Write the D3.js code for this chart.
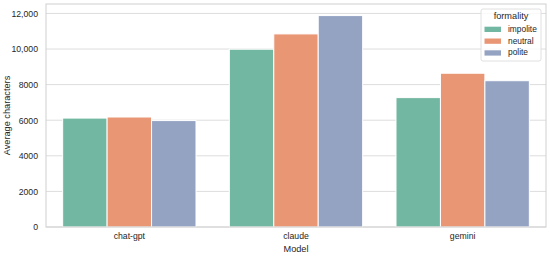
<!DOCTYPE html>
<html>
<head>
<meta charset="utf-8">
<script src="https://cdn.jsdelivr.net/npm/d3@7"></script>
<style>
  body { margin: 0; background: #fff; }
  text { font-family: "Liberation Sans", Arial, sans-serif; fill: #262626; }
</style>
</head>
<body>
<div id="chart"></div>
<script>
// data
var models = ["chat-gpt", "claude", "gemini"];
var formality = ["impolite", "neutral", "polite"];
var impoliteValues = [6120, 9990, 7270];
var neutralValues = [6180, 10850, 8640];
var politeValues = [5980, 11880, 8220];
var yTicks = [0, 2000, 4000, 6000, 8000, 10000, 12000];
var colors = ["#71b7a1", "#e99675", "#95a3c3"];

var seriesValues = [impoliteValues, neutralValues, politeValues];

var W = 550, H = 256;
var margin = {top: 4, right: 4, bottom: 29, left: 46};
var width = W - margin.left - margin.right,
    height = H - margin.top - margin.bottom;

var svg = d3.select("#chart").append("svg")
  .attr("width", W)
  .attr("height", H);

var g = svg.append("g")
  .attr("transform", "translate(" + margin.left + "," + margin.top + ")");

var x = d3.scaleBand()
  .domain(models)
  .range([0, width])
  .paddingInner(0.2)
  .paddingOuter(0.1);

var xInner = d3.scaleBand()
  .domain(formality)
  .range([0, x.bandwidth()]);

var y = d3.scaleLinear()
  .domain([0, 12530])
  .range([height, 0]);

// grid
g.selectAll(".grid")
  .data(yTicks)
  .enter().append("line")
    .attr("x1", 0)
    .attr("x2", width)
    .attr("y1", d => y(d))
    .attr("y2", d => y(d))
    .attr("stroke", "#dddddd")
    .attr("stroke-width", 1);

// bars
var data = [];
models.forEach(function(m, i) {
  formality.forEach(function(f, j) {
    data.push({model: m, formality: f, value: seriesValues[j][i], idx: j});
  });
});

g.selectAll(".bar")
  .data(data)
  .enter().append("rect")
    .attr("x", d => x(d.model) + xInner(d.formality))
    .attr("y", d => y(d.value))
    .attr("width", xInner.bandwidth())
    .attr("height", d => height - y(d.value))
    .attr("fill", d => colors[d.idx])
    .attr("stroke", "#fff")
    .attr("stroke-width", 1);

// frame
g.append("rect")
  .attr("width", width)
  .attr("height", height)
  .attr("fill", "none")
  .attr("stroke", "#d0d0d0")
  .attr("stroke-width", 1);

// y axis
var yAxis = d3.axisLeft(y)
  .tickValues(yTicks)
  .tickSize(0)
  .tickPadding(8)
  .tickFormat(d => d >= 10000 ? d3.format(",")(d) : d);

var ya = g.append("g").call(yAxis);
ya.select(".domain").remove();
ya.selectAll("text")
  .style("font-size", "8.7px")
  .style("font-family", "Liberation Sans, Arial, sans-serif")
  .attr("fill", "#262626");

// x axis
var xAxis = d3.axisBottom(x).tickSize(0).tickPadding(6);
var xa = g.append("g")
  .attr("transform", "translate(0," + height + ")")
  .call(xAxis);
xa.select(".domain").remove();
xa.selectAll("text")
  .style("font-size", "8.7px")
  .style("font-family", "Liberation Sans, Arial, sans-serif")
  .attr("fill", "#262626");

// axis titles
svg.append("text")
  .attr("x", margin.left + width / 2)
  .attr("y", 252.3)
  .attr("text-anchor", "middle")
  .style("font-size", "9.2px")
  .text("Model");

svg.append("text")
  .attr("transform", "translate(10," + (margin.top + height / 2) + ") rotate(-90)")
  .attr("text-anchor", "middle")
  .style("font-size", "9.2px")
  .text("Average characters");

// legend
var legend = svg.append("g").attr("transform", "translate(481,9)");
legend.append("rect")
  .attr("width", 60)
  .attr("height", 52)
  .attr("rx", 2)
  .attr("fill", "#fff")
  .attr("fill-opacity", 0.8)
  .attr("stroke", "#e0e0e0");

legend.append("text")
  .attr("x", 30)
  .attr("y", 10.3)
  .attr("text-anchor", "middle")
  .style("font-size", "9.2px")
  .text("formality");

formality.forEach(function(f, i) {
  legend.append("rect")
    .attr("x", 3.5)
    .attr("y", 17.7 + i * 11.8)
    .attr("width", 16.5)
    .attr("height", 5.3)
    .attr("fill", colors[i]);
  legend.append("text")
    .attr("x", 27)
    .attr("y", 22.7 + i * 11.8)
    .style("font-size", "8.4px")
    .text(f);
});
</script>
</body>
</html>
